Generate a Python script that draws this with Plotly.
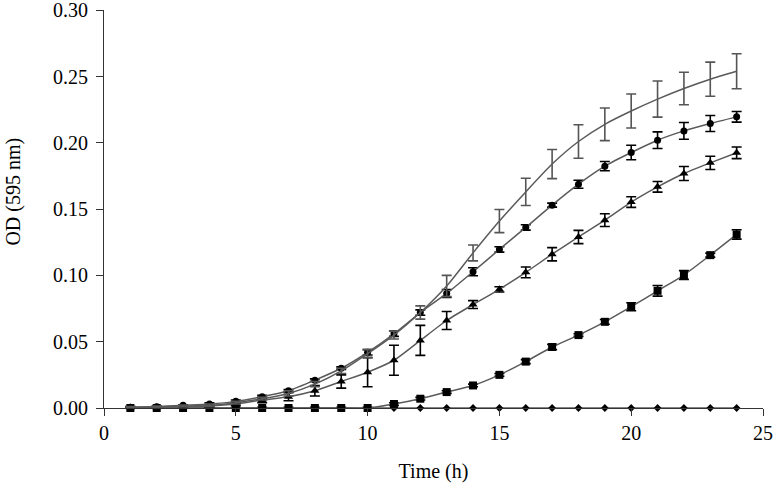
import plotly.graph_objects as go

time_h = list(range(1, 25))

# Series without markers (grey line, grey error bars)
od_top = [0.0005, 0.001, 0.0015, 0.002, 0.004, 0.007, 0.011, 0.018, 0.028, 0.041,
          0.055, 0.072, 0.092, 0.117, 0.141, 0.163, 0.184, 0.201, 0.214, 0.224,
          0.233, 0.241, 0.248, 0.254]
err_top = [0.0005, 0.0005, 0.0008, 0.001, 0.001, 0.001, 0.002, 0.002, 0.002, 0.003,
           0.003, 0.005, 0.008, 0.006, 0.0087, 0.0103, 0.011, 0.0126, 0.0123, 0.0128,
           0.0136, 0.0123, 0.0129, 0.0132]

# Circle series
od_circle = [0.0005, 0.001, 0.002, 0.003, 0.005, 0.0085, 0.013, 0.021, 0.030, 0.042,
             0.056, 0.072, 0.0864, 0.1028, 0.1196, 0.1362, 0.153, 0.1688, 0.1824, 0.1927,
             0.202, 0.209, 0.2146, 0.2196]
err_circle = [0.0005, 0.0005, 0.0005, 0.001, 0.001, 0.001, 0.001, 0.001, 0.001, 0.002,
              0.002, 0.002, 0.003, 0.003, 0.002, 0.002, 0.0015, 0.003, 0.0035, 0.0055,
              0.0063, 0.0063, 0.006, 0.004]

# Triangle series
od_triangle = [0.0003, 0.0006, 0.001, 0.0015, 0.003, 0.006, 0.0085, 0.013, 0.020, 0.027,
               0.036, 0.051, 0.066, 0.078, 0.0895, 0.1023, 0.116, 0.129, 0.1417, 0.1553,
               0.1668, 0.1769, 0.1849, 0.1925]
err_triangle = [0.0005, 0.0005, 0.0008, 0.001, 0.001, 0.002, 0.003, 0.004, 0.005, 0.011,
                0.0113, 0.0113, 0.0068, 0.003, 0.002, 0.004, 0.005, 0.005, 0.0048, 0.004,
                0.004, 0.0053, 0.005, 0.0044]

# Square series
od_square = [0, 0, 0, 0, 0, 0, 0, 0, 0, 0,
             0.003, 0.007, 0.012, 0.017, 0.025, 0.035, 0.046, 0.055, 0.065, 0.0764,
             0.0884, 0.1003, 0.1153, 0.1309]
err_square = [0.0005, 0.0005, 0.0005, 0.0005, 0.0005, 0.0005, 0.0005, 0.0005, 0.0005, 0.0005,
              0.001, 0.001, 0.001, 0.001, 0.001, 0.0015, 0.002, 0.001, 0.0018, 0.003,
              0.004, 0.0033, 0.0015, 0.0035]

# Diamond series (flat)
od_diamond = [0] * 24

x_ticks = [0, 5, 10, 15, 20, 25]
y_ticks = [0.0, 0.05, 0.10, 0.15, 0.20, 0.25, 0.30]
y_tick_text = ["0.00", "0.05", "0.10", "0.15", "0.20", "0.25", "0.30"]

LINE = "#5a5a5a"
FONT = "Liberation Serif"

fig = go.Figure()

def add(y, err, symbol, size, ecolor):
    fig.add_trace(go.Scatter(
        x=time_h, y=y,
        mode="lines+markers" if symbol else "lines",
        line=dict(color=LINE, width=1.5, shape="spline", smoothing=0.6),
        marker=dict(symbol=symbol or "circle", size=size, color="black",
                    line=dict(width=0)),
        error_y=dict(type="data", array=err, visible=True,
                     color=ecolor, thickness=1.6, width=5) if err is not None else None,
        showlegend=False, hoverinfo="x+y", cliponaxis=False))

add(od_diamond, None, "diamond", 6, "black")
add(od_square, err_square, "square", 8, "black")
add(od_triangle, err_triangle, "triangle-up", 8, "black")
add(od_circle, err_circle, "circle", 7, "black")
add(od_top, err_top, None, 0, "#555555")

fig.update_layout(
    width=774, height=490,
    margin=dict(l=104, r=11, t=10, b=82, autoexpand=False),
    paper_bgcolor="white", plot_bgcolor="white",
    font=dict(family=FONT, size=20, color="black"),
    xaxis=dict(range=[0, 25], tickvals=x_ticks, showgrid=False, zeroline=False,
               automargin=False, ticklabeloverflow="allow",
               showline=True, linecolor="#333333", linewidth=1.2,
               ticks="outside", ticklen=7, tickcolor="#333333", tickwidth=1.2,
               tickfont=dict(family=FONT, size=20),
               title=dict(text="Time (h)", font=dict(family=FONT, size=20), standoff=20)),
    yaxis=dict(range=[0, 0.3002], tickvals=y_ticks, ticktext=y_tick_text,
               showgrid=False, zeroline=False, automargin=False,
               ticklabeloverflow="allow",
               showline=True, linecolor="#333333", linewidth=1.2,
               ticks="outside", ticklen=7, tickcolor="#333333", tickwidth=1.2,
               tickfont=dict(family=FONT, size=20), ticklabelstandoff=4),
    annotations=[dict(text="OD (595 nm)", textangle=-90, xref="paper", yref="paper",
                      x=-0.137, y=0.543, xanchor="center", yanchor="middle",
                      showarrow=False, font=dict(family=FONT, size=20))],
)

fig.write_html("out.html", config={"displayModeBar": False},
               post_script="document.body.style.margin='0';document.body.style.overflow='hidden';")
